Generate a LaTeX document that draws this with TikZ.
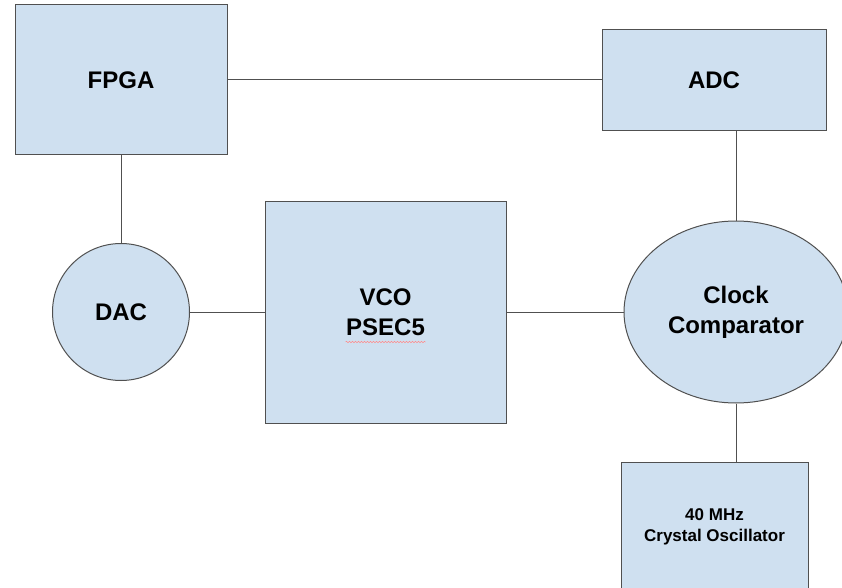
\documentclass[tikz,border=0pt]{standalone}
\usepackage{fontspec}
\setmainfont{Liberation Sans}
\usetikzlibrary{shapes.geometric,decorations.pathmorphing}
\definecolor{boxblue}{HTML}{CFE0F0}
\definecolor{edgegray}{HTML}{505050}
\begin{document}
\begin{tikzpicture}[x=1pt,y=-1pt,line width=1pt,
    main node/.style={draw=edgegray,fill=boxblue,font=\bfseries\fontsize{24}{30}\selectfont,align=center,inner sep=0pt},
    small node/.style={main node,font=\bfseries\fontsize{17}{21}\selectfont},
    link/.style={draw=edgegray,line width=1pt}]
    \clip (0,0) rectangle (842,588);
    \node[main node,minimum width=212pt,minimum height=150pt] (fpga) at (121,80) {FPGA};
    \node[main node,minimum width=224pt,minimum height=101pt] (adc) at (714,80) {ADC};
    \node[main node,circle,minimum size=137pt] (dac) at (121,312) {DAC};
    \node[main node,minimum width=241pt,minimum height=222pt] (vco) at (385.5,312) {VCO\\PSEC5};
    \node[main node,ellipse,minimum width=224pt,minimum height=182pt] (cc) at (736,312) {Clock\\Comparator};
    \node[small node,minimum width=187pt,minimum height=130pt] (osc) at (714.5,527) {40 MHz\\Crystal Oscillator};
    \path[link]
    (fpga) edge (adc)
    (fpga) edge (dac)
    (dac) edge (vco)
    (vco) edge (cc)
    (cc.north) edge (cc.north |- adc.south)
    (cc.south) edge (cc.south |- osc.north);
    % spell-check squiggle under PSEC5
    \draw[red!45,line width=0.5pt,decorate,decoration={snake,amplitude=0.7pt,segment length=3pt}]
    ([xshift=-40pt,yshift=-30pt]vco.center) -- ([xshift=40pt,yshift=-30pt]vco.center);
\end{tikzpicture}
\end{document}
